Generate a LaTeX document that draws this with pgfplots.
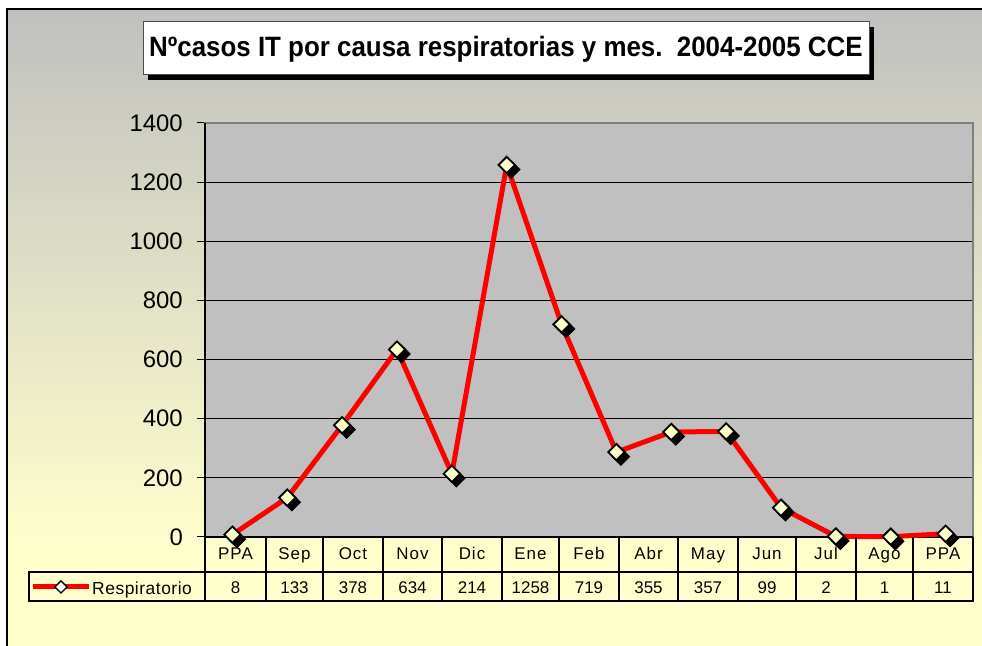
\documentclass[border=0pt]{standalone}
\usepackage{graphicx}
\usepackage{pgfplots}
\usepackage{pgfplotstable}
\pgfplotsset{compat=1.18}
\usepackage{fontspec}
\setmainfont{Liberation Sans}
\definecolor{plotgray}{RGB}{192,192,192}
\definecolor{bgtop}{RGB}{192,192,192}
\definecolor{bgbot}{RGB}{255,255,204}
\definecolor{mkfill}{RGB}{255,255,204}

\pgfplotstableread{
x y
0.5 8
1.5 133
2.5 378
3.5 634
4.5 214
5.5 1258
6.5 719
7.5 287
8.5 355
9.5 357
10.5 99
11.5 2
12.5 1
13.5 11
}\resp

\begin{document}
\begin{tikzpicture}[x=1bp,y=1bp]
\useasboundingbox (0,0) rectangle (982,646);
\fill[white] (0,0) rectangle (982,646);
\fill[bgbot] (7,0) rectangle (982,637);
\shade[top color=bgtop, bottom color=bgbot] (7,100) rectangle (982,637);
\draw[black, line width=2bp] (7,0) -- (7,637) -- (982,637);

% title
\fill[black] (148,566) rectangle (874,619);
\filldraw[fill=white, draw=black!70, line width=1bp] (143,571) rectangle (869,624);
\node[font=\fontsize{26}{26}\selectfont\bfseries, inner sep=0pt] at (506,597) {\scalebox{1.0}[1.08]{Nºcasos IT por causa respiratorias y mes.\ \ 2004-2005 CCE}};

\begin{axis}[
  at={(205bp,109bp)}, anchor=south west, scale only axis,
  width=768bp, height=414bp,
  xmin=0, xmax=14, ymin=0, ymax=1400,
  xtick=\empty, ytick={0,200,...,1400},
  ymajorgrids, grid style={black, line width=0.9bp},
  axis background/.style={fill=plotgray},
  axis line style={draw=black!50, line width=1.5bp},
  tick align=outside, ytick pos=left, major tick length=8bp,
  tick style={black, line width=1bp},
  yticklabel style={font=\fontsize{24}{24}\selectfont, inner sep=0pt, xshift=-14bp},
  /pgf/number format/assume math mode=true,
  /pgf/number format/1000 sep={},
  clip=false,
]
\draw[black, line width=1.5bp] (axis cs:0,1400) -- (axis cs:0,0) -- (axis cs:14,0);
\addplot[red, line width=5bp, no marks] table[x=x,y=y] {\resp};
\addplot[only marks, mark=square*, mark size=5.8bp, mark options={xshift=4.5bp, yshift=-4.5bp, rotate=45, fill=black, draw=black, line width=1.6bp}] table[x=x,y=y] {\resp};
\addplot[only marks, mark=square*, mark size=5.8bp, mark options={rotate=45, fill=mkfill, draw=black, line width=1.8bp}] table[x=x,y=y] {\resp};
\end{axis}

% data table
\draw[black, line width=1.2bp] (29,74) rectangle (973,45);
\foreach \x in {205,266,323,383,442,502,559,619,678,738,796,856,913,973}
  \draw[black, line width=1.2bp] (\x,109) -- (\x,45);
\foreach \x/\lab/\val in {235.5/PPA/8, 294.5/Sep/133, 353/Oct/378, 412.5/Nov/634, 472/Dic/214, 530.5/Ene/1258, 589/Feb/719, 648.5/Abr/355, 708/May/357, 767/Jun/99, 826/Jul/2, 884.5/Ago/1, 943/PPA/11} {
  \node[font=\fontsize{17}{17}\selectfont\addfontfeature{LetterSpace=6}, anchor=base, inner sep=0pt] at (\x,86) {\lab};
  \node[font=\fontsize{17}{17}\selectfont, anchor=base, inner sep=0pt] at (\x,52) {\val};
}
\draw[red, line width=5bp] (33,59) -- (89,59);
\node[draw=black, fill=white, line width=1.4bp, minimum size=8.5bp, inner sep=0pt, rotate=45] at (61,59) {};
\node[font=\fontsize{17.5}{17.5}\selectfont\addfontfeature{LetterSpace=3}, anchor=base west, inner sep=0pt] at (92,51) {Respiratorio};
\end{tikzpicture}
\end{document}
